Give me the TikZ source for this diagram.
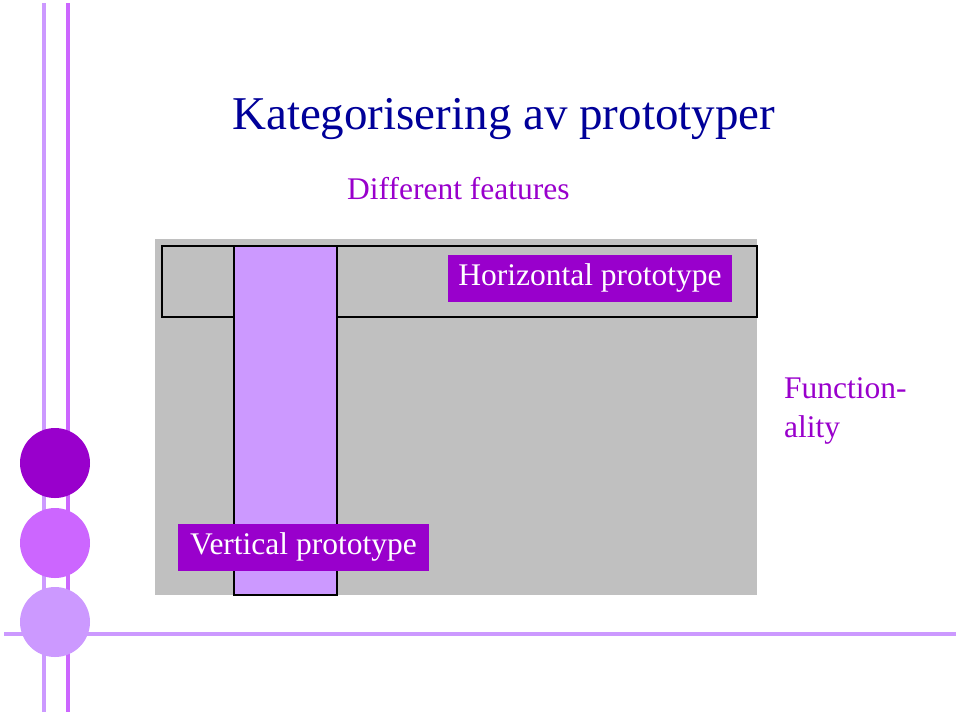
\documentclass[tikz,border=0pt]{standalone}
\usepackage{fontspec}
\setmainfont{Liberation Serif}
\definecolor{navyt}{HTML}{000099}
\definecolor{purp}{HTML}{9900CC}
\definecolor{midp}{HTML}{CC66FF}
\definecolor{lightp}{HTML}{CC99FF}
\definecolor{grayf}{HTML}{C0C0C0}
\tikzset{
  deco/.style={line width=4pt},
  labelbox/.style={fill=purp,text=white,inner sep=0pt,minimum height=47pt,font=\fontsize{31.5}{36}\selectfont,text height=21pt,text depth=7pt},
}
\begin{document}
\begin{tikzpicture}[x=1pt,y=-1pt]
\useasboundingbox (0,0) rectangle (960,716);
% decorative lines
\coordinate (l1t) at (44,3); \coordinate (l1b) at (44,712);
\coordinate (l2t) at (68,3); \coordinate (l2b) at (68,712);
\coordinate (hl) at (4,634); \coordinate (hr) at (956,634);
\draw[deco,lightp] (l1t) -- (l1b);
\draw[deco,midp] (l2t) -- (l2b);
\draw[deco,lightp] (hl) -- (hr);
\fill[purp] (55,463) circle (35);
\fill[midp] (55,543) circle (35);
\fill[lightp] (55,622) circle (35);
% title
\node[anchor=base west,text=navyt,font=\fontsize{47}{56}\selectfont,inner sep=0] (title) at (232,129) {Kategorisering av prototyper};
\node[anchor=base west,text=purp,font=\fontsize{31.5}{36}\selectfont,inner sep=0] (diff) at (347,199) {Different features};
% diagram
\fill[grayf] (155,239) rectangle (757,595);
\draw[line width=1.5pt] (162,246) rectangle (757,317);
\filldraw[fill=lightp,draw=black,line width=1.5pt] (234,246) rectangle (337,595);
\node[labelbox,minimum width=284pt] (hor) at (590,278.5) {Horizontal prototype};
\node[labelbox,minimum width=251pt] (ver) at (303.5,547) {Vertical prototype};
\node[anchor=base west,text=purp,font=\fontsize{31.5}{39}\selectfont,align=left,inner sep=0] (func) at (784,398) {Function-};
\node[anchor=base west,text=purp,font=\fontsize{31.5}{39}\selectfont,inner sep=0] (func2) at (784,437) {ality};
\end{tikzpicture}
\end{document}
